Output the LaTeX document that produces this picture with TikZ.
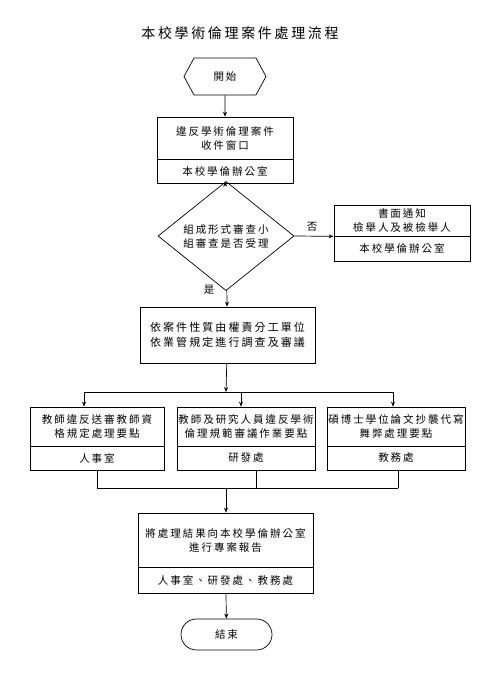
\documentclass[tikz,border=0pt]{standalone}
\usepackage{fontspec}
\setmainfont{Noto Sans CJK TC}[LetterSpace=19]
\usetikzlibrary{shapes.geometric,shapes.misc,shapes.symbols,arrows.meta}
\newcommand{\boxfont}{\fontsize{10.5}{14}\selectfont}
\newcommand{\bigboxfont}{\fontsize{11}{15}\selectfont}
\newcommand{\headfont}{\fontsize{14}{16}\selectfont}
\begin{document}
\begin{tikzpicture}[x=1pt,y=-1pt,line width=0.7pt,>={Stealth[length=5pt,width=4pt]},
  box/.style={draw,rectangle,align=center,inner sep=0pt,font=\boxfont},
  startbox/.style={draw,signal,signal to=west and east,signal pointer angle=123,inner sep=0pt,minimum width=82,minimum height=37,font=\boxfont},
  endbox/.style={draw,rounded rectangle,inner sep=0pt,minimum width=91,minimum height=31,font=\boxfont},
  check/.style={draw,diamond,align=center,inner sep=0pt,minimum width=136,minimum height=70,font=\boxfont}]
\useasboundingbox (0,0) rectangle (495,700);
\node[font=\headfont] (0) at (240,33) {本校學術倫理案件處理流程};
\node[startbox] (1) at (225,76.5) {開始};
\node[box,minimum width=136,minimum height=42] (2) at (225,138) {違反學術倫理案件\\收件窗口};
\node[box,minimum width=136,minimum height=24] (2s) at (225,171) {本校學倫辦公室};
\node[check] (3) at (226,236) {組成形式審查小\\組審查是否受理};
\node[box,minimum width=136,minimum height=31] (4) at (402,220.5) {書面通知\\檢舉人及被檢舉人};
\node[box,minimum width=136,minimum height=25] (4s) at (402,248.5) {本校學倫辦公室};
\node[box,font=\bigboxfont,minimum width=175,minimum height=56] (5) at (227.5,335) {依案件性質由權責分工單位\\依業管規定進行調查及審議};
\node[box,minimum width=134,minimum height=39] (6) at (97,426.5) {教師違反送審教師資\\格規定處理要點};
\node[box,minimum width=134,minimum height=24] (6s) at (97,458) {人事室};
\node[box,minimum width=138,minimum height=39] (7) at (246,426.5) {教師及研究人員違反學術\\倫理規範審議作業要點};
\node[box,minimum width=138,minimum height=24] (7s) at (246,458) {研發處};
\node[box,minimum width=138,minimum height=39] (8) at (396,426.5) {碩博士學位論文抄襲代寫\\舞弊處理要點};
\node[box,minimum width=138,minimum height=24] (8s) at (396,458) {教務處};
\node[box,minimum width=175,minimum height=54] (9) at (225.5,540) {將處理結果向本校學倫辦公室\\進行專案報告};
\node[box,minimum width=175,minimum height=26] (9s) at (225.5,580) {人事室、研發處、教務處};
\node[endbox] (10) at (226.5,634.5) {結束};
\node[font=\boxfont] (no) at (312,227) {否};
\node[font=\boxfont] (yes) at (209,290) {是};
\coordinate (s) at (226,392);
\coordinate (s1) at (84,392);
\coordinate (s2) at (241,392);
\coordinate (s3) at (393,392);
\coordinate (m) at (226,488);
\coordinate (m1) at (97,488);
\coordinate (m2) at (256,488);
\coordinate (m3) at (398,488);
\path[draw,->] (1) -- (2);
\path[draw,->] (2s) -- (3);
\path[draw,->] (3.east) -- (4.south west);
\path[draw,->] (3) -- (5);
\path[draw,->] (5) -- (s);
\path[draw] (s1) -- (s3);
\path[draw,->] (s1) -- (s1 |- 6.north);
\path[draw,->] (s2) -- (s2 |- 7.north);
\path[draw,->] (s3) -- (s3 |- 8.north);
\path[draw] (6s) -- (m1);
\path[draw] (m2 |- 7s.south) -- (m2);
\path[draw] (m3 |- 8s.south) -- (m3);
\path[draw] (m1) -- (m3);
\path[draw,->] (m) -- (m |- 9.north);
\path[draw,line width=1.5pt] (9.south west) -- (9.south east);
\path[draw,->] (m |- 9s.south) -- (10);
\end{tikzpicture}
\end{document}
